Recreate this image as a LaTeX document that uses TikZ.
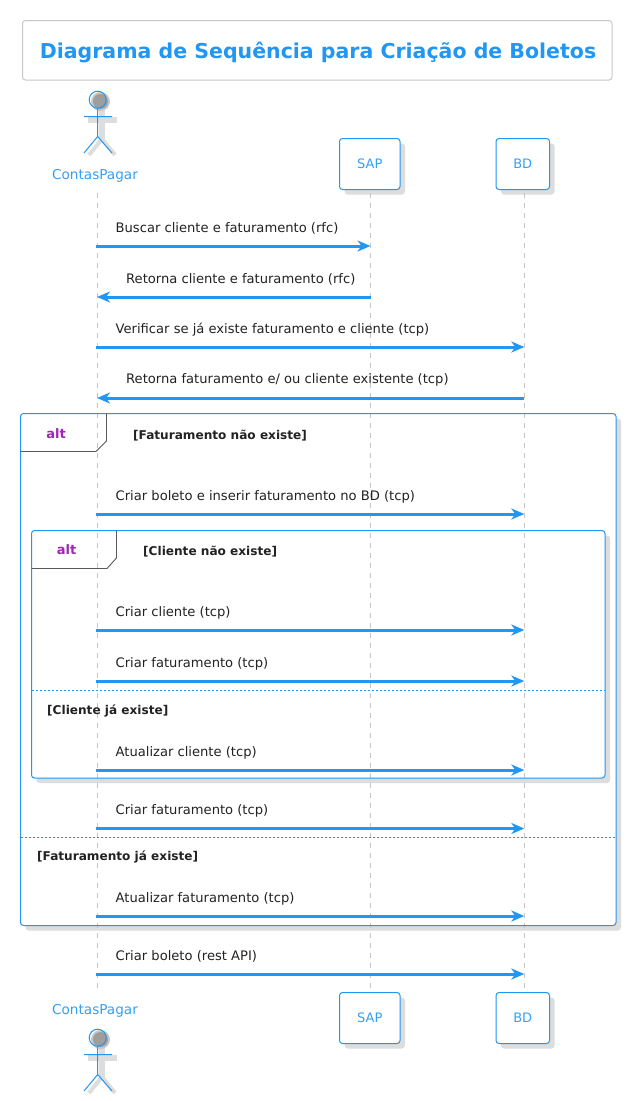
\documentclass[tikz,border=0pt]{standalone}
\usepackage{fontspec}
\setmainfont{DejaVu Sans}
\usetikzlibrary{arrows.meta}
\definecolor{azul}{HTML}{2196F3}
\definecolor{azultexto}{HTML}{33A0F5}
\definecolor{roxo}{HTML}{9C27B0}
\definecolor{sombra}{HTML}{DDDDDD}
\definecolor{linha}{HTML}{C4C4C4}
\definecolor{texto}{HTML}{222222}
\tikzset{
  partbox/.style={draw=azul,line width=1pt,fill=white,rounded corners=3pt,minimum height=51pt,text=azultexto,font=\fontsize{13}{15}\selectfont,inner sep=0pt},
  actorname/.style={text=azultexto,font=\fontsize{13.6}{15}\selectfont,inner sep=0pt},
  shadowbox/.style={fill=sombra,rounded corners=3pt},
  framefill/.style={fill=white,rounded corners=3pt},
  frameline/.style={draw=azul,line width=1pt,rounded corners=3pt},
  lifeline/.style={draw=linha,line width=0.8pt,dash pattern=on 5pt off 5pt},
  divider/.style={draw=azul,line width=0.9pt,dash pattern=on 2pt off 2pt},
  tabline/.style={draw=black!65,line width=0.9pt},
  msg/.style={draw=azul,line width=3pt,-{Stealth[length=13pt,width=11pt,inset=4pt]}},
  msgtext/.style={anchor=base west,text=texto,inner sep=0pt,font=\fontsize{13.1}{15}\selectfont},
  guard/.style={anchor=base west,text=texto,inner sep=0pt,font=\fontsize{12.1}{15}\selectfont\bfseries},
  alttext/.style={anchor=base,text=roxo,inner sep=0pt,font=\fontsize{13}{15}\selectfont\bfseries},
}
\begin{document}
\begin{tikzpicture}[x=1pt,y=-1pt]
\useasboundingbox[fill=white] (0,0) rectangle (635,1101);
% titulo
\node[draw=black!22,line width=1pt,rounded corners=3pt,minimum width=589.5pt,minimum height=59.5pt,inner sep=0pt] (caixa) at (317.25,50.25) {};
\node[inner sep=0pt,anchor=base,text=azul,font=\fontsize{20.5}{25}\selectfont\bfseries] (titulo) at (318,58) {Diagrama de Sequência para Criação de Boletos};
% sombras
\fill[shadowbox] (344.5,143.5) rectangle (405,194.5);
\fill[shadowbox] (501,143.5) rectangle (554.5,194.5);
\fill[shadowbox] (344.5,997.5) rectangle (405,1048.5);
\fill[shadowbox] (501,997.5) rectangle (554.5,1048.5);
\fill[shadowbox] (25.5,418.5) rectangle (621,930.5);
\fill[framefill] (20.5,413.5) rectangle (616,925.5);
\fill[shadowbox] (36.5,535.5) rectangle (610,783);
\fill[framefill] (31.5,530.5) rectangle (605,778);
% participantes
\node[partbox,minimum width=60.5pt] (sap) at (369.75,164) {SAP};
\node[partbox,minimum width=53.5pt] (bd) at (522.75,164) {BD};
\node[partbox,minimum width=60.5pt] (sapb) at (369.75,1018) {SAP};
\node[partbox,minimum width=53.5pt] (bdb) at (522.75,1018) {BD};
\node[actorname] (contas) at (95,176) {ContasPagar};
\node[actorname] (contasb) at (95,1011) {ContasPagar};
% atores
\foreach \dy in {0,938} {
  \draw[sombra,line width=6pt] (88,119.5+\dy) -- (117,119.5+\dy) (102,110+\dy) -- (102,139+\dy);
  \draw[sombra,line width=4pt] (102,139+\dy) -- (89,155+\dy) (102,139+\dy) -- (115,155+\dy);
  \fill[black!22] (100.5,101.5+\dy) circle (9.5);
  \fill[black!38] (100.5,101.5+\dy) circle (7.5);
  \draw[azul,line width=1pt] (97.7,99.7+\dy) circle (8.5);
  \draw[azul,line width=1pt] (84,116.5+\dy) -- (112,116.5+\dy) (97.7,108.2+\dy) -- (97.7,136.5+\dy) -- (84,153+\dy) (97.7,136.5+\dy) -- (112,153+\dy);
}
% linhas de vida
\coordinate (l1) at (97.5,193);
\coordinate (l1b) at (97.5,990);
\coordinate (l2) at (370.5,193);
\coordinate (l2b) at (370.5,990);
\coordinate (l3) at (524.3,193);
\coordinate (l3b) at (524.3,990);
\draw[lifeline] (l1) -- (l1b);
\draw[lifeline] (l2) -- (l2b);
\draw[lifeline] (l3) -- (l3b);
% frames
\draw[frameline] (20.5,413.5) rectangle (616,925.5);
\draw[frameline] (31.5,530.5) rectangle (605,778);
\draw[tabline] (106.5,413.5) -- (106.5,441) -- (96,451.5) -- (20.5,451.5);
\draw[tabline] (116.5,530.5) -- (116.5,558) -- (107,568.5) -- (31.5,568.5);
\draw[divider] (20.5,837.5) -- (616,837.5);
\draw[divider] (31.5,690.5) -- (605,690.5);
\node[alttext] (alt1) at (56,438) {alt};
\node[alttext] (alt2) at (66.5,554.5) {alt};
\node[guard] (g1) at (133,439) {[Faturamento não existe]};
\node[guard] (g2) at (143,555.5) {[Cliente não existe]};
\node[guard] (g3) at (47,714) {[Cliente já existe]};
\node[guard] (g4) at (37,860.5) {[Faturamento já existe]};
% mensagens para a direita
\coordinate (a1) at (96,246);
\coordinate (s1) at (370.5,246);
\draw[msg] (a1) -- (s1);
\node[msgtext] (t1) at (115.5,232) {Buscar cliente e faturamento (rfc)};
\foreach \y/\txt [count=\i from 2] in {347/{Verificar se já existe faturamento e cliente (tcp)},
  514/{Criar boleto e inserir faturamento no BD (tcp)},
  630/{Criar cliente (tcp)},
  681/{Criar faturamento (tcp)},
  770/{Atualizar cliente (tcp)},
  828.5/{Criar faturamento (tcp)},
  916/{Atualizar faturamento (tcp)},
  974/{Criar boleto (rest API)}} {
  \coordinate (a\i) at (96,\y);
  \coordinate (b\i) at (524.3,\y);
  \draw[msg] (a\i) -- (b\i);
  \node[msgtext] (t\i) at (115.5,\y-14) {\txt};
}
% mensagens de volta
\coordinate (s10) at (370.5,297);
\coordinate (a10) at (97,297);
\draw[msg] (s10) -- (a10);
\node[msgtext] (t10) at (126,283) {Retorna cliente e faturamento (rfc)};
\coordinate (b11) at (524.3,398);
\coordinate (a11) at (97,398);
\draw[msg] (b11) -- (a11);
\node[msgtext] (t11) at (126,383.5) {Retorna faturamento e/ ou cliente existente (tcp)};
\end{tikzpicture}
\end{document}
